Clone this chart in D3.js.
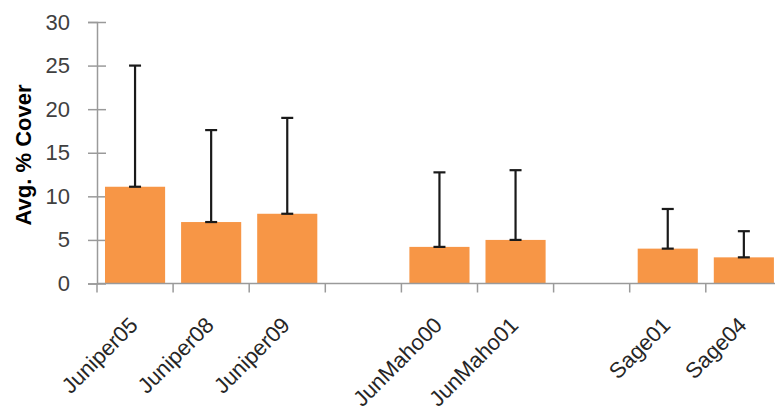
<!DOCTYPE html>
<html>
<head>
<meta charset="utf-8">
<script src="https://cdn.jsdelivr.net/npm/d3@7"></script>
<style>
  body { margin: 0; background: #fff; }
  svg { display: block; }
</style>
</head>
<body>
<svg id="chart"></svg>
<script>
// slots: blank entries keep the gaps between site groups
const sites = ["Juniper05", "Juniper08", "Juniper09", "_gap1", "JunMaho00", "JunMaho01", "_gap2", "Sage01", "Sage04"];
const cover = [11.1, 7.05, 8.0, null, 4.2, 5.0, null, 4.0, 3.0];
const errUp = [13.9, 10.55, 11.0, null, 8.55, 8.0, null, 4.55, 3.0];
const yTicks = [0, 5, 10, 15, 20, 25, 30];

const W = 775, H = 413;
const plotLeft = 97, plotTop = 22, plotBottom = 283.5;
const step = 76.1;
const font = "Liberation Sans, Arial, sans-serif";

const svg = d3.select("#chart").attr("width", W).attr("height", H);

const x = d3.scaleBand()
  .domain(sites)
  .range([plotLeft, plotLeft + step * sites.length])
  .paddingInner(0.21)
  .paddingOuter(0.105);

const y = d3.scaleLinear().domain([0, 30]).range([plotBottom, plotTop]);

const rows = sites.map((s, i) => ({ site: s, v: cover[i], e: errUp[i] }))
  .filter(d => d.v != null);

// y axis
const yAxis = svg.append("g")
  .attr("transform", `translate(${plotLeft},0)`)
  .call(d3.axisLeft(y).tickValues(yTicks).tickSize(9).tickPadding(18));
yAxis.select(".domain").attr("stroke", "#9a9a9a").attr("stroke-width", 1.5);
yAxis.selectAll(".tick line").attr("stroke", "#9a9a9a").attr("stroke-width", 1.5)
  .attr("x1", 9);
yAxis.selectAll("text")
  .attr("font-family", font)
  .attr("font-size", 22).attr("fill", "#404040");

// bars
svg.append("g").selectAll("rect")
  .data(rows).enter().append("rect")
  .attr("x", d => x(d.site))
  .attr("width", x.bandwidth())
  .attr("y", d => y(d.v))
  .attr("height", d => y(0) - y(d.v))
  .attr("fill", "#F79646");

// x axis line + boundary ticks
const xg = svg.append("g");
xg.append("line")
  .attr("x1", plotLeft).attr("x2", W)
  .attr("y1", y(0)).attr("y2", y(0))
  .attr("stroke", "#9a9a9a").attr("stroke-width", 1.5);
const bounds = sites.map(s => x(s) - (x.step() - x.bandwidth()) / 2);
xg.selectAll(".bt").data(bounds).enter().append("line")
  .attr("x1", d => d).attr("x2", d => d)
  .attr("y1", y(0)).attr("y2", y(0) + 9)
  .attr("stroke", "#9a9a9a").attr("stroke-width", 1.5);

// category labels (JunMaho ones run off the bottom edge, as in the original)
xg.selectAll(".lab").data(sites.filter(s => !s.startsWith("_"))).enter()
  .append("text")
  .attr("transform", s => `translate(${x(s) + x.bandwidth() / 2 + 4},${y(0) + 43}) rotate(-45)`)
  .attr("text-anchor", "end")
  .attr("font-family", font)
  .attr("font-size", 22).attr("fill", "#262626")
  .text(s => s);

// error bars (upper only, capped at both ends)
const eb = svg.append("g").attr("stroke", "#1a1a1a").attr("stroke-width", 2.2);
rows.forEach(d => {
  const cx = x(d.site) + x.bandwidth() / 2;
  eb.append("line").attr("x1", cx).attr("x2", cx)
    .attr("y1", y(d.v)).attr("y2", y(d.v + d.e));
  [d.v, d.v + d.e].forEach(v => {
    eb.append("line").attr("x1", cx - 6).attr("x2", cx + 6)
      .attr("y1", y(v)).attr("y2", y(v));
  });
});

// y title
svg.append("text")
  .attr("transform", `translate(31,155) rotate(-90)`)
  .attr("text-anchor", "middle")
  .attr("font-family", font)
  .attr("font-weight", "bold")
  .attr("font-size", 22).attr("fill", "#000")
  .text("Avg. % Cover");
</script>
</body>
</html>
